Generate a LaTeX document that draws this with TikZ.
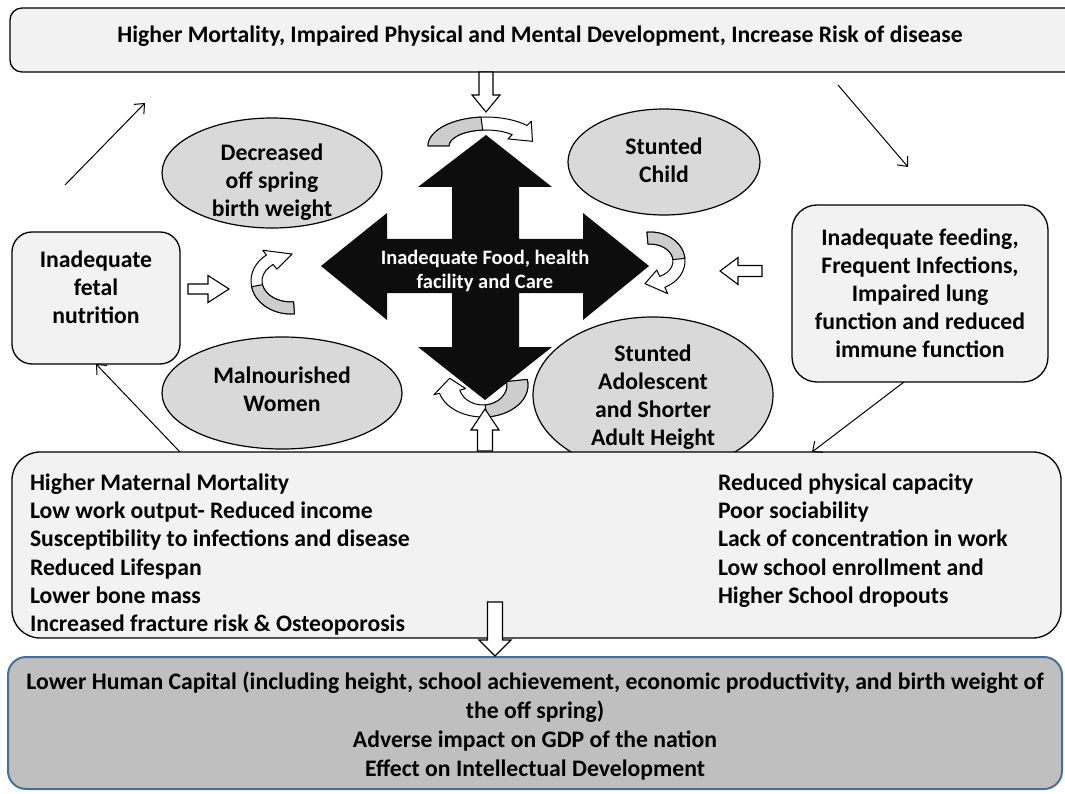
\documentclass[tikz,border=0pt]{standalone}
\usepackage{fontspec}
\setmainfont{Carlito}
\usetikzlibrary{shapes.geometric,arrows.meta,calc}
\definecolor{boxfill}{HTML}{F2F2F2}
\definecolor{ellfill}{HTML}{D9D9D9}
\definecolor{curvgray}{HTML}{CDCDCD}
\definecolor{crossblk}{HTML}{0D0D0D}
\definecolor{finalfill}{HTML}{BFBFBF}
\definecolor{finalline}{HTML}{4A6F96}

\pgfkeys{/ca/.is family, /ca,
 cx/.store in=\cacx, cy/.store in=\cacy,
 orx/.store in=\caorx, ory/.store in=\caory,
 irx/.store in=\cairx, iry/.store in=\cairy,
 start/.store in=\castart, split/.store in=\casplit,
 end/.store in=\caend, tip/.store in=\catip, ext/.store in=\caext}

\newcommand\curvedarrow[1]{%
 \pgfkeys{/ca,#1}%
 \pgfmathsetmacro\camx{(\caorx+\cairx)/2}%
 \pgfmathsetmacro\camy{(\caory+\cairy)/2}%
 \filldraw[fill=white, line width=1pt, line join=round]
   ({\cacx+\caorx*cos(\castart)},{\cacy+\caory*sin(\castart)})
   arc[start angle=\castart, end angle=\caend, x radius=\caorx pt, y radius=\caory pt]
   -- ({\cacx+(\caorx+\caext)*cos(\caend)},{\cacy+(\caory+\caext)*sin(\caend)})
   -- ({\cacx+\camx*cos(\catip)},{\cacy+\camy*sin(\catip)})
   -- ({\cacx+(\cairx-\caext)*cos(\caend)},{\cacy+(\cairy-\caext)*sin(\caend)})
   -- ({\cacx+\cairx*cos(\caend)},{\cacy+\cairy*sin(\caend)})
   arc[start angle=\caend, end angle=\castart, x radius=\cairx pt, y radius=\cairy pt]
   -- cycle;
 \filldraw[fill=curvgray, line width=1pt, line join=round]
   ({\cacx+\caorx*cos(\castart)},{\cacy+\caory*sin(\castart)})
   arc[start angle=\castart, end angle=\casplit, x radius=\caorx pt, y radius=\caory pt]
   -- ({\cacx+\cairx*cos(\casplit)},{\cacy+\cairy*sin(\casplit)})
   arc[start angle=\casplit, end angle=\castart, x radius=\cairx pt, y radius=\cairy pt]
   -- cycle;
}

\newcommand\blockarrow[7]{%
 \begin{scope}[shift={(#1,#2)},rotate=#3]
  \draw[barrow] (0,-#6) -- ({#4-#5},-#6) -- ({#4-#5},-#7) -- (#4,0)
     -- ({#4-#5},#7) -- ({#4-#5},#6) -- (0,#6) -- cycle;
 \end{scope}}

\begin{document}
\begin{tikzpicture}[x=1pt,y=1pt,
  every node/.style={font=\bfseries\fontsize{23.7}{28}\selectfont, align=center, inner sep=0pt, outer sep=0pt},
  rbox/.style={rectangle, draw=black, line width=1.3pt, fill=boxfill, rounded corners=#1},
  ell/.style={ellipse, draw=black, line width=1.2pt, fill=ellfill},
  conn/.style={line width=1pt, -{Straight Barb[length=8pt,width=14pt]}},
  barrow/.style={draw=black, line width=1.1pt, fill=white, line join=miter}]

\useasboundingbox (0,0) rectangle (1065,-794);

% ---------- top box ----------
\node[rbox=12pt, minimum width=1072pt, minimum height=64pt] (topbox) at (546,-40) {};
\node (toptext) at (540,-36) {Higher Mortality, Impaired Physical and Mental Development, Increase Risk of disease};

% ---------- ellipses ----------
\node[ell, minimum width=220pt, minimum height=110pt] (dec) at (272,-173) {};
\node (dect) at (272,-182) {Decreased\\off spring\\birth weight};
\node[ell, minimum width=192pt, minimum height=106pt] (schild) at (664,-162) {};
\node (schildt) at (664,-160) {Stunted\\Child};
\node[ell, minimum width=240pt, minimum height=112pt] (malw) at (282,-393) {};
\node (malwt) at (282,-389) {Malnourished\\Women};
\node[ell, minimum width=240pt, minimum height=156pt] (sado) at (653,-395) {};
\node (sadot) at (653,-397) {Stunted\\Adolescent\\and Shorter\\Adult Height};

% ---------- central cross ----------
\fill[crossblk] (486,-135) -- (552,-187) -- (519,-187) -- (519,-239) -- (583,-239)
  -- (583,-213) -- (649,-266) -- (583,-320) -- (583,-293) -- (519,-293) -- (519,-347)
  -- (552,-347) -- (485,-400) -- (418,-347) -- (452,-347) -- (452,-293) -- (387,-293)
  -- (387,-320) -- (321,-266) -- (387,-213) -- (387,-239) -- (452,-239) -- (452,-187)
  -- (418,-187) -- cycle;
\node[text=white, font=\bfseries\fontsize{20.5}{24}\selectfont] (crosst) at (485,-271)
  {Inadequate Food, health\\facility and Care};

% ---------- curved arrows ----------
\curvedarrow{cx=486,cy=-146,orx=58,ory=29,irx=37,iry=16,start=180,split=95,end=45,tip=12,ext=6}
\curvedarrow{cx=650,cy=-261,orx=35,ory=29,irx=23,iry=17,start=95,split=5,end=-65,tip=-100,ext=7}
\curvedarrow{cx=291,cy=-281,orx=40,ory=33,irx=29,iry=21,start=-85,split=-170,end=-232,tip=-272,ext=6}
\curvedarrow{cx=483,cy=-385,orx=45,ory=32,irx=24,iry=20,start=10,split=-85,end=-165,tip=-195,ext=6}

% ---------- side boxes ----------
\node[rbox=20pt, minimum width=168pt, minimum height=132pt] (fetal) at (96,-298) {};
\node (fetalt) at (96,-287) {Inadequate\\fetal\\nutrition};
\node[rbox=25pt, minimum width=256pt, minimum height=177pt] (feed) at (920,-293.5) {};
\node (feedt) at (920,-293) {Inadequate feeding,\\Frequent Infections,\\Impaired lung\\function and reduced\\immune function};

% ---------- bottom list box ----------
\node[rbox=28pt, minimum width=1049pt, minimum height=186pt] (bot) at (536.5,-545) {};
\node[anchor=west, align=left, font=\bfseries\fontsize{23.7}{28.2}\selectfont] (botl) at (30,-554.5)
  {Higher Maternal Mortality\\Low work output- Reduced income\\Susceptibility to infections and disease\\Reduced Lifespan\\Lower bone mass\\Increased fracture risk \& Osteoporosis};
\node[anchor=west, align=left, font=\bfseries\fontsize{23.7}{28.2}\selectfont] (botr) at (718,-540.5)
  {Reduced physical capacity\\Poor sociability\\Lack of concentration in work\\Low school enrollment and\\Higher School dropouts};

% ---------- final box ----------
\node[rectangle, draw=finalline, line width=2pt, fill=finalfill, rounded corners=18pt,
      minimum width=1054pt, minimum height=132pt] (final) at (535,-723) {};
\node[font=\bfseries\fontsize{23.7}{29}\selectfont] (finalt) at (535,-726)
  {Lower Human Capital (including height, school achievement, economic productivity, and birth weight of\\the off spring)\\Adverse impact on GDP of the nation\\Effect on Intellectual Development};

% ---------- block arrows ----------
\blockarrow{486}{-72}{-90}{40}{17}{7}{14}
\blockarrow{188}{-289}{0}{41}{21}{5}{13.5}
\blockarrow{762}{-271}{180}{42}{18}{5.5}{13.5}
\blockarrow{485}{-451}{90}{42}{21}{7.5}{14}
\blockarrow{495}{-602}{-90}{54}{16}{7.5}{16}

% ---------- thin connectors ----------
\coordinate (la) at (65,-185);
\coordinate (lb) at (145,-103);
\coordinate (ra) at (838,-85);
\coordinate (rb) at (908,-167);
\draw[conn] (la) -- (lb);
\draw[conn] (ra) -- (rb);
\draw[conn] ($(bot.north)+(-356.5,0)$) -- (fetal.south);
\draw[conn] ($(feed.south)+(-16,0)$) -- ($(bot.north)+(275.5,0)$);

\end{tikzpicture}
\end{document}
